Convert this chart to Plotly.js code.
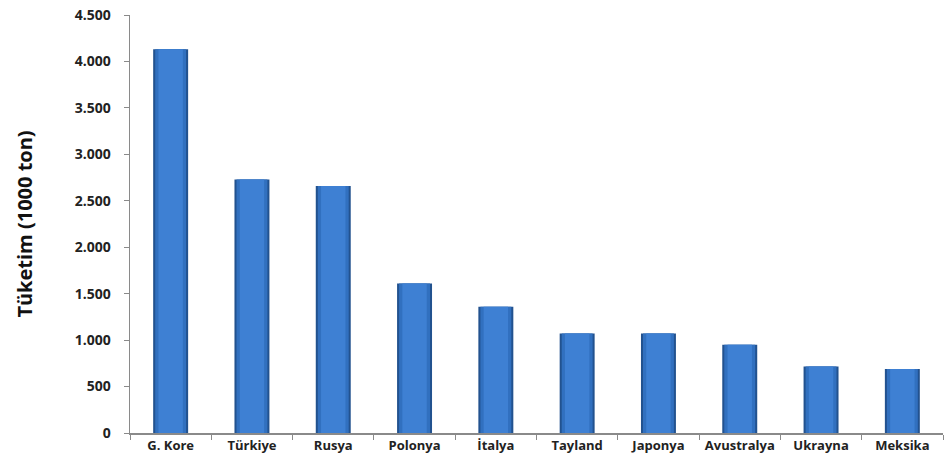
<!DOCTYPE html>
<html>
<head>
<meta charset="utf-8">
<script src="https://cdn.plot.ly/plotly-3.0.1.min.js"></script>
<style>html,body{margin:0;padding:0;background:#fff;}#chart{width:950px;height:469px;}</style>
</head>
<body>
<div id="chart"></div>
<script>
const countries = ["G. Kore","Türkiye","Rusya","Polonya","İtalya","Tayland","Japonya","Avustralya","Ukrayna","Meksika"];
const consumption = [4130, 2730, 2660, 1610, 1360, 1070, 1070, 950, 715, 690];
const yTicks = [0, 500, 1000, 1500, 2000, 2500, 3000, 3500, 4000, 4500];

const outer = {
  type: 'bar', x: countries, y: consumption, width: 0.43,
  marker: {color: '#22528F', line: {width: 0}},
  hoverinfo: 'x+y'
};
const mid = {
  type: 'bar', x: countries, y: consumption, width: 0.38,
  marker: {color: '#3170BF', line: {width: 0}},
  hoverinfo: 'skip'
};
const inner = {
  type: 'bar', x: countries, y: consumption, width: 0.30,
  marker: {color: '#3E80D3', line: {width: 0}},
  hoverinfo: 'skip'
};

const layout = {
  width: 950, height: 469,
  margin: {l: 130, r: 7, t: 15, b: 36},
  paper_bgcolor: '#fff', plot_bgcolor: '#fff',
  separators: ',.',
  showlegend: false,
  barmode: 'overlay',
  font: {family: '"Open Sans", sans-serif', color: '#222'},
  xaxis: {
    type: 'category',
    showline: true, linecolor: '#8a8a8a', linewidth: 1.5,
    ticks: 'outside', tickson: 'boundaries', ticklen: 5, tickcolor: '#8a8a8a',
    tickangle: 0,
    tickfont: {size: 13, weight: 'bold', color: '#222'},
    showgrid: false, zeroline: false
  },
  yaxis: {
    range: [0, 4500],
    tickvals: yTicks,
    tickformat: ',d',
    showline: true, linecolor: '#8a8a8a', linewidth: 1.5,
    ticks: 'outside', ticklen: 5, tickcolor: '#8a8a8a',
    ticklabelstandoff: 10,
    tickfont: {size: 14, weight: 'bold', color: '#222'},
    showgrid: false, zeroline: false,
    title: {text: 'Tüketim (1000 ton)', font: {size: 20, weight: 'bold', color: '#111'}, standoff: 36}
  }
};

Plotly.newPlot('chart', [outer, mid, inner], layout, {displayModeBar: false, staticPlot: true});
</script>
</body>
</html>
